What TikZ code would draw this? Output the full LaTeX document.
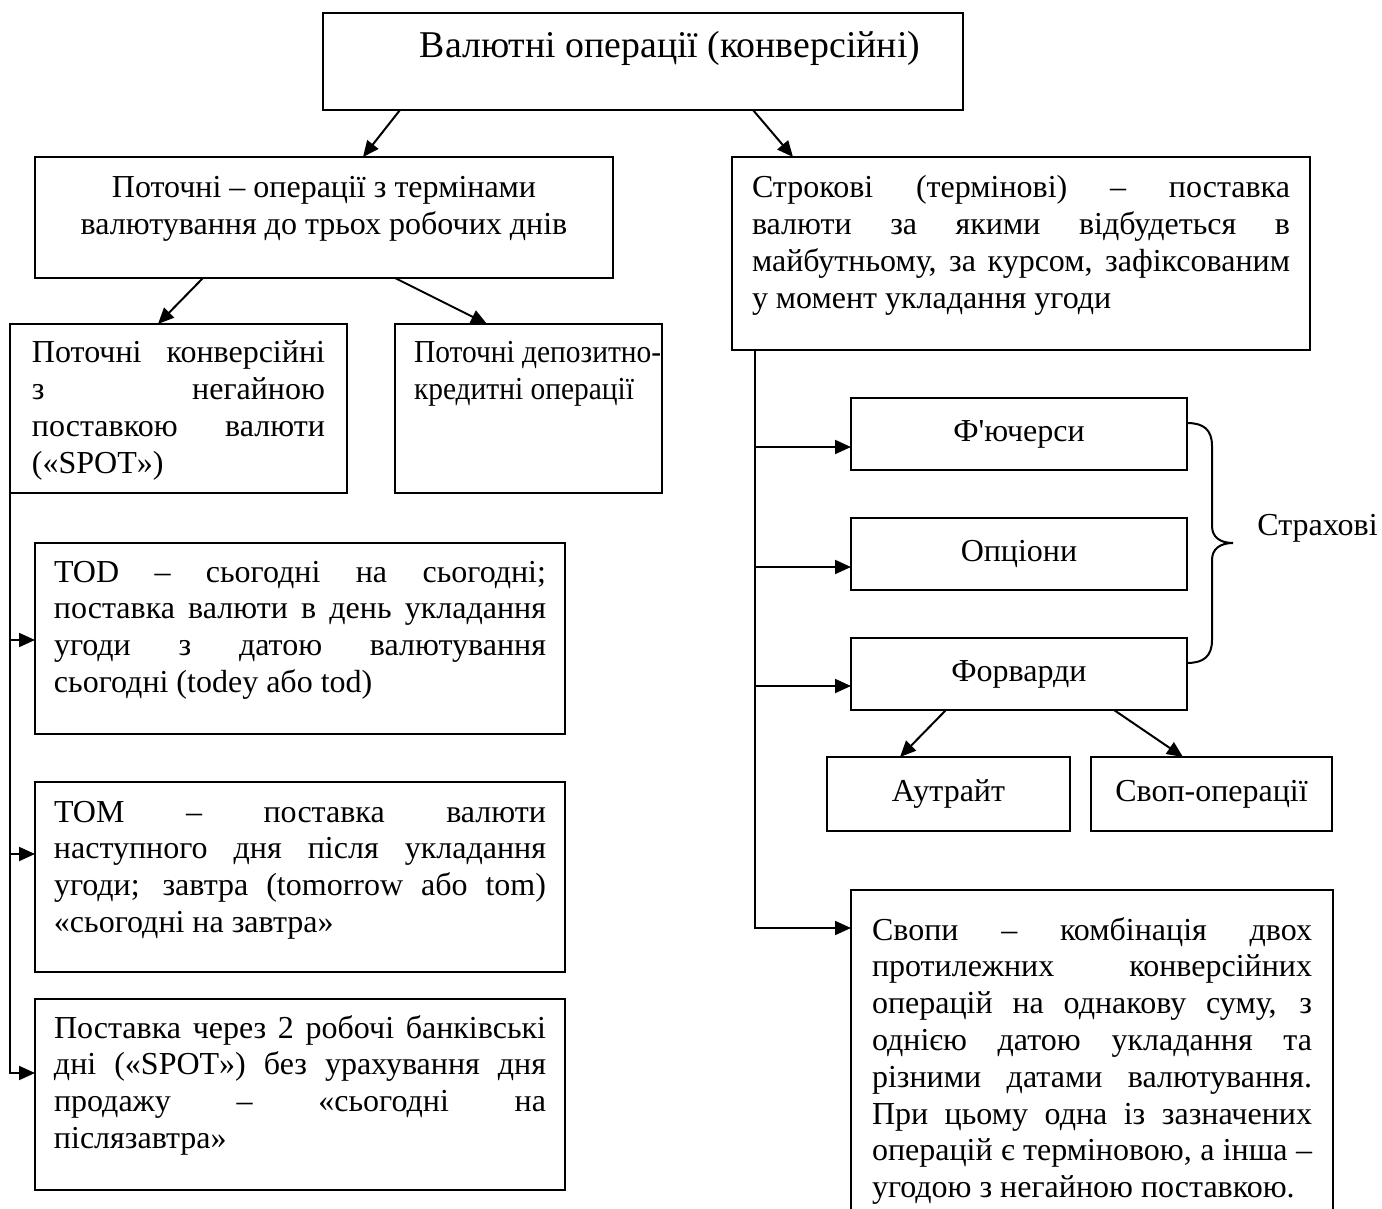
\documentclass[tikz,border=0pt]{standalone}
\usepackage{fontspec}
\setmainfont{Liberation Serif}[Ligatures=TeXOff]
\usetikzlibrary{arrows.meta,calc}
\newlength\pxu \setlength\pxu{0.5pt}
\newcommand\dgbox[5]{\begin{minipage}[t][#2\pxu][t]{#1\pxu}#4\vspace*{\dimexpr#3\pxu-0.7\baselineskip\relax}\strut#5\end{minipage}}
\newcommand\dgjust[1]{\leftskip=#1\pxu\rightskip=#1\pxu\relax}
\newcommand\dgrag[1]{\raggedright\leftskip=#1\pxu\relax}
\tolerance=10000 \hbadness=10000 \vbadness=10000 \hfuzz=20pt
\begin{document}
\begin{tikzpicture}[x=0.5pt,y=-0.5pt,
  font=\fontsize{16pt}{18.4pt}\selectfont,
  box/.style={draw, line width=1pt, inner sep=0pt, outer sep=0pt, anchor=north west},
  plain/.style={inner sep=0pt, outer sep=0pt, anchor=north west},
  sbox/.style={draw, line width=1pt, inner sep=0pt, outer sep=0pt, anchor=north west, align=center, minimum height=36pt},
  conn/.style={line width=1pt},
  arr/.style={conn, -{Triangle[length=8pt,width=7pt]}}]
\useasboundingbox (0,0) rectangle (1382,1209);

% top
\node[box] (title) at (323,13) {\dgbox{640}{97}{45}{\centering\fontsize{18.9pt}{22pt}\selectfont}{\hspace*{27pt}Валютні операції (конверсійні)}};

\node[box] (cur) at (35,157) {\dgbox{578}{121}{41}{\centering}{Поточні – операції з термінами\\ валютування до трьох робочих днів}};

\node[box] (strok) at (732,157) {\dgbox{578}{193}{41}{\dgjust{20}}{Строкові (термінові) – поставка\linebreak валюти за якими відбудеться в\linebreak майбутньому, за курсом, зафіксованим\linebreak у момент укладання угоди}};

% left column
\node[box] (spot) at (10,324) {\dgbox{337}{169}{39}{\dgjust{22}}{Поточні конверсійні\linebreak з негайною\linebreak поставкою валюти\linebreak («SPOT»)}};
\node[box] (dep) at (395,324) {\dgbox{267}{169}{39}{\addfontfeature{FakeStretch=0.92}\dgrag{19}}{\mbox{Поточні депозитно-}\\кредитні операції}};

\node[box] (tod) at (35,543) {\dgbox{530}{191}{39}{\dgjust{19}}{TOD – сьогодні на сьогодні;\linebreak поставка валюти в день укладання\linebreak угоди з датою валютування\linebreak сьогодні (todey або tod)}};
\node[box] (tom) at (35,782) {\dgbox{530}{190}{40}{\dgjust{19}}{TOM – поставка валюти\linebreak наступного дня після укладання\linebreak угоди; завтра (tomorrow або tom)\linebreak «сьогодні на завтра»}};
\node[box] (post) at (35,999) {\dgbox{530}{191}{39}{\dgjust{19}}{Поставка через 2 робочі банківські\linebreak дні («SPOT») без урахування дня\linebreak продажу – «сьогодні на\linebreak післязавтра»}};

% right column
\node[sbox, minimum width=168pt] (fut) at (851,398) {Ф'ючерси};
\node[sbox, minimum width=168pt] (opt) at (851,518) {Опціони};
\node[sbox, minimum width=168pt] (forw) at (851,638) {Форварди};
\node[sbox, minimum width=121.5pt, minimum height=37pt] (aut) at (827,757) {Аутрайт};
\node[sbox, minimum width=120.5pt, minimum height=37pt] (swop) at (1091,757) {Своп-операції};

\node[plain] (svopy) at (851,890) {\dgbox{482}{319}{50}{\dgjust{21}}{Свопи – комбінація двох\linebreak протилежних конверсійних\linebreak операцій на однакову суму, з\linebreak однією датою укладання та\linebreak різними датами валютування.\linebreak При цьому одна із зазначених\linebreak операцій є терміновою, а інша –\linebreak угодою з негайною поставкою.}};
\draw[conn] (svopy.south west) |- (svopy.north east) -- (svopy.south east);

% brace and label
\draw[conn] (1187,423) .. controls (1204,423) and (1212,430) .. (1212,446) -- (1212,526)
  .. controls (1212,537) and (1220,543) .. (1233,543)
  .. controls (1220,543) and (1212,549) .. (1212,560) -- (1212,640)
  .. controls (1212,656) and (1204,663) .. (1187,663);
\node[anchor=base west, inner sep=0pt] (strah) at (1257,535) {Страхові};

% diagonal connectors
\draw[arr] ($(title.south west)+(77,0)$) -- ($(cur.north west)+(328,0)$);
\draw[arr] ($(title.south west)+(430,0)$) -- ($(strok.north west)+(61,0)$);
\draw[arr] ($(cur.south west)+(168,0)$) -- ($(spot.north west)+(148,0)$);
\draw[arr] ($(cur.south west)+(360,0)$) -- ($(dep.north west)+(92,0)$);
\draw[arr] ($(forw.south west)+(95,0)$) -- ($(aut.north west)+(73,0)$);
\draw[arr] ($(forw.south west)+(263,0)$) -- ($(swop.north west)+(92,0)$);

% left trunk
\coordinate (a1) at ($(tod.north west)+(0,97)$);
\coordinate (a2) at ($(tom.north west)+(0,72)$);
\coordinate (a3) at ($(post.north west)+(0,74)$);
\draw[arr] (spot.south west) |- (a3);
\draw[arr] (spot.south west |- a1) -- (a1);
\draw[arr] (spot.south west |- a2) -- (a2);

% right trunk
\coordinate (rtop) at ($(strok.south west)+(23,0)$);
\coordinate (b1) at ($(fut.north west)+(0,49)$);
\coordinate (b2) at ($(opt.north west)+(0,49)$);
\coordinate (b3) at ($(forw.north west)+(0,48)$);
\coordinate (b4) at ($(svopy.north west)+(0,38)$);
\draw[arr] (rtop) |- (b4);
\draw[arr] (rtop |- b1) -- (b1);
\draw[arr] (rtop |- b2) -- (b2);
\draw[arr] (rtop |- b3) -- (b3);
\end{tikzpicture}
\end{document}
